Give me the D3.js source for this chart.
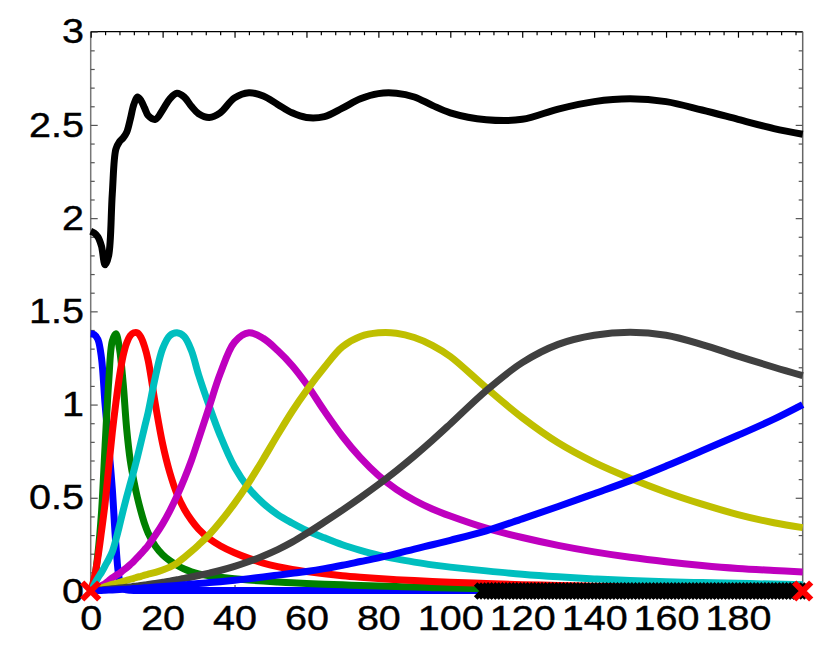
<!DOCTYPE html>
<html>
<head>
<meta charset="utf-8">
<script src="https://cdn.jsdelivr.net/npm/d3@7"></script>
<style>
  html, body { margin: 0; padding: 0; background: #fff; }
  svg text { font-family: "Liberation Sans", Arial, Helvetica, sans-serif; }
</style>
</head>
<body>
<div id="chart"></div>
<script>
// Shared sample positions (x)
const xs = [0, 1, 2, 3, 4, 5, 6, 7, 8, 9, 10, 11, 12, 13, 14, 15, 16, 18, 20, 22,
            24, 26, 28, 30, 33, 36, 40, 44, 48, 52, 56, 60, 65, 70, 75, 80, 85, 90, 95, 100,
            110, 120, 130, 140, 150, 160, 170, 180, 190, 198];

// Series values at xs
const blackLine = [1.93, 1.92, 1.90, 1.85, 1.75, 1.80, 2.13, 2.37, 2.41, 2.43, 2.46, 2.53, 2.61, 2.65, 2.63, 2.59, 2.55, 2.53, 2.58, 2.64,
                   2.67, 2.65, 2.60, 2.56, 2.54, 2.565, 2.645, 2.673, 2.655, 2.61, 2.565, 2.54, 2.545, 2.59, 2.64, 2.668, 2.67, 2.65, 2.605, 2.565,
                   2.528, 2.53, 2.585, 2.625, 2.64, 2.625, 2.58, 2.53, 2.48, 2.45];
const blue1 = [1.38, 1.375, 1.35, 1.25, 1.0, 0.78, 0.55, 0.25, 0.06, 0.015, 0.006, 0.004, 0.003, 0.003, 0.003, 0.003, 0.003, 0.003, 0.003, 0.003,
               0.003, 0.003, 0.003, 0.003, 0.003, 0.003, 0.003, 0.003, 0.003, 0.003, 0.003, 0.003, 0.003, 0.003, 0.003, 0.003, 0.003, 0.003, 0.003, 0.003,
               0.003, 0.003, 0.003, 0.003, 0.003, 0.003, 0.003, 0.003, 0.003, 0.003];
const green = [0, 0.06, 0.2, 0.42, 0.78, 1.12, 1.34, 1.38, 1.3, 1.12, 0.87, 0.7, 0.59, 0.5, 0.425, 0.36, 0.31, 0.24, 0.195, 0.163,
               0.138, 0.118, 0.103, 0.092, 0.081, 0.074, 0.066, 0.059, 0.053, 0.048, 0.044, 0.04, 0.036, 0.033, 0.03, 0.027, 0.024, 0.021, 0.018, 0.016,
               0.012, 0.01, 0.008, 0.007, 0.006, 0.005, 0.005, 0.004, 0.004, 0.004];
const red = [0, 0.07, 0.18, 0.32, 0.47, 0.66, 0.85, 1.01, 1.15, 1.26, 1.33, 1.37, 1.385, 1.385, 1.36, 1.31, 1.235, 1.0, 0.79, 0.635,
             0.52, 0.44, 0.38, 0.332, 0.28, 0.243, 0.205, 0.175, 0.15, 0.131, 0.116, 0.104, 0.092, 0.082, 0.074, 0.067, 0.061, 0.056, 0.051, 0.047,
             0.04, 0.034, 0.03, 0.026, 0.023, 0.021, 0.019, 0.017, 0.016, 0.015];
const cyan = [0, 0.035, 0.07, 0.1, 0.135, 0.17, 0.21, 0.275, 0.35, 0.43, 0.505, 0.575, 0.645, 0.72, 0.8, 0.88, 0.96, 1.15, 1.3, 1.37,
              1.385, 1.365, 1.29, 1.16, 0.99, 0.835, 0.665, 0.55, 0.47, 0.41, 0.365, 0.325, 0.285, 0.248, 0.218, 0.192, 0.172, 0.155, 0.14, 0.128,
              0.108, 0.09, 0.076, 0.065, 0.056, 0.05, 0.045, 0.041, 0.037, 0.034];
const magenta = [0, 0.008, 0.015, 0.028, 0.04, 0.055, 0.07, 0.083, 0.095, 0.11, 0.125, 0.142, 0.16, 0.18, 0.2, 0.222, 0.245, 0.3, 0.36, 0.43,
                 0.51, 0.6, 0.7, 0.815, 0.99, 1.165, 1.335, 1.385, 1.355, 1.29, 1.21, 1.11, 0.965, 0.83, 0.715, 0.62, 0.545, 0.487, 0.44, 0.402,
                 0.337, 0.287, 0.245, 0.21, 0.181, 0.157, 0.137, 0.121, 0.11, 0.102];
const yellow = [0, 0.005, 0.011, 0.017, 0.023, 0.029, 0.035, 0.04, 0.046, 0.052, 0.057, 0.063, 0.068, 0.074, 0.079, 0.085, 0.09, 0.1, 0.113, 0.128,
                0.15, 0.18, 0.212, 0.247, 0.303, 0.37, 0.47, 0.583, 0.708, 0.838, 0.963, 1.075, 1.2, 1.31, 1.365, 1.385, 1.383, 1.36, 1.318, 1.258,
                1.09, 0.93, 0.795, 0.69, 0.605, 0.53, 0.466, 0.41, 0.366, 0.34];
const gray = [0, 0.002, 0.004, 0.006, 0.008, 0.01, 0.012, 0.014, 0.016, 0.018, 0.02, 0.022, 0.025, 0.027, 0.03, 0.032, 0.035, 0.041, 0.047, 0.053,
              0.06, 0.067, 0.075, 0.083, 0.096, 0.11, 0.132, 0.158, 0.188, 0.222, 0.262, 0.308, 0.37, 0.434, 0.501, 0.571, 0.645, 0.724, 0.808, 0.896,
              1.075, 1.225, 1.323, 1.372, 1.388, 1.372, 1.322, 1.26, 1.2, 1.155];
const blue2 = [0, 0.001, 0.002, 0.003, 0.004, 0.005, 0.006, 0.007, 0.008, 0.009, 0.01, 0.011, 0.013, 0.014, 0.015, 0.017, 0.018, 0.021, 0.024, 0.027,
               0.03, 0.033, 0.037, 0.04, 0.045, 0.05, 0.058, 0.066, 0.075, 0.085, 0.095, 0.105, 0.12, 0.138, 0.158, 0.178, 0.2, 0.225, 0.248, 0.272,
               0.323, 0.387, 0.453, 0.522, 0.592, 0.67, 0.752, 0.835, 0.922, 1.0];

// Markers along y = 0
const blackMarkX = [109, 110, 111, 112, 113, 114, 115, 116, 117, 118, 119, 120, 121, 122, 123, 124, 125, 126, 127, 128,
                    129, 130, 131, 132, 133, 134, 135, 136, 137, 138, 139, 140, 141, 142, 143, 144, 145, 146, 147, 148,
                    149, 150, 151, 152, 153, 154, 155, 156, 157, 158, 159, 160, 161, 162, 163, 164, 165, 166, 167, 168,
                    169, 170, 171, 172, 173, 174, 175, 176, 177, 178, 179, 180, 181, 182, 183, 184, 185, 186, 187, 188,
                    189, 190, 191, 192, 193, 194, 195, 196, 197];
const redMarkX = [0, 198];

// Axis ticks
const xTicks = [0, 20, 40, 60, 80, 100, 120, 140, 160, 180];
const xMinor = [4, 8, 12, 16, 24, 28, 32, 36, 44, 48, 52, 56, 64, 68, 72, 76, 84, 88, 92, 96,
                104, 108, 112, 116, 124, 128, 132, 136, 144, 148, 152, 156, 164, 168, 172, 176, 184, 188, 192, 196];
const yTicks = [0, 0.5, 1, 1.5, 2, 2.5, 3];
const yMinor = [0.1, 0.2, 0.3, 0.4, 0.6, 0.7, 0.8, 0.9, 1.1, 1.2, 1.3, 1.4, 1.6, 1.7, 1.8, 1.9,
                2.1, 2.2, 2.3, 2.4, 2.6, 2.7, 2.8, 2.9];

const series = [
    { values: blue1, color: "#0000ff" },
    { values: green, color: "#008000" },
    { values: red, color: "#ff0000" },
    { values: cyan, color: "#00bfbf" },
    { values: magenta, color: "#bf00bf" },
    { values: yellow, color: "#bfbf00" },
    { values: gray, color: "#404040" },
    { values: blue2, color: "#0000ff" },
    { values: blackLine, color: "#000000" }
];

const width = 831, height = 651;
const plotLeft = 90.7, plotRight = 802.7, plotTop = 31.7, plotBottom = 591;

const svg = d3.select("#chart").append("svg")
    .attr("width", width)
    .attr("height", height);

svg.append("rect").attr("width", width).attr("height", height).attr("fill", "#fff");

const x = d3.scaleLinear().domain([0, 198]).range([plotLeft, plotRight]);
const y = d3.scaleLinear().domain([0, 3]).range([plotBottom, plotTop]);

// Frame
svg.append("line").attr("x1", plotLeft).attr("x2", plotRight).attr("y1", plotTop).attr("y2", plotTop)
    .attr("stroke", "#000").attr("stroke-width", 1.2);
svg.append("line").attr("x1", plotLeft).attr("x2", plotLeft).attr("y1", plotTop).attr("y2", plotBottom)
    .attr("stroke", "#777").attr("stroke-width", 1.5);
svg.append("line").attr("x1", plotRight).attr("x2", plotRight).attr("y1", plotTop).attr("y2", plotBottom)
    .attr("stroke", "#666").attr("stroke-width", 1.5);
svg.append("line").attr("x1", plotLeft).attr("x2", plotRight).attr("y1", plotBottom).attr("y2", plotBottom)
    .attr("stroke", "#777").attr("stroke-width", 1.2);

// Axes with inward ticks; labels are slightly widened like the original font
function styleAxis(sel, color) {
    sel.select(".domain").remove();
    sel.selectAll(".tick line").attr("stroke", color).attr("stroke-width", 1.2);
    sel.selectAll("text")
        .attr("font-size", "35px")
        .attr("fill", "#000")
        .attr("stroke", "#000")
        .attr("stroke-width", 0.4)
        .attr("transform", "scale(1.13,1)");
}

svg.append("g").attr("transform", `translate(${plotLeft},0)`)
    .call(d3.axisLeft(y).tickValues(yTicks).tickSize(-7).tickSizeOuter(0).tickPadding(6)
        .tickFormat(d3.format("")))
    .call(g => styleAxis(g, "#555"));
svg.append("g").attr("transform", `translate(${plotLeft},0)`)
    .call(d3.axisLeft(y).tickValues(yMinor).tickSize(-4).tickSizeOuter(0).tickFormat(""))
    .call(g => styleAxis(g, "#555"));
svg.append("g").attr("transform", `translate(${plotRight},0)`)
    .call(d3.axisRight(y).tickValues(yTicks).tickSize(-7).tickSizeOuter(0).tickFormat(""))
    .call(g => styleAxis(g, "#555"));
svg.append("g").attr("transform", `translate(${plotRight},0)`)
    .call(d3.axisRight(y).tickValues(yMinor).tickSize(-4).tickSizeOuter(0).tickFormat(""))
    .call(g => styleAxis(g, "#555"));

svg.append("g").attr("transform", `translate(0,${plotTop})`)
    .call(d3.axisTop(x).tickValues(xTicks).tickSize(-6).tickSizeOuter(0).tickFormat(""))
    .call(g => styleAxis(g, "#000"));
svg.append("g").attr("transform", `translate(0,${plotTop})`)
    .call(d3.axisTop(x).tickValues(xMinor).tickSize(-3.5).tickSizeOuter(0).tickFormat(""))
    .call(g => styleAxis(g, "#000"));
svg.append("g").attr("transform", `translate(0,${plotBottom})`)
    .call(d3.axisBottom(x).tickValues(xTicks).tickSize(-6).tickSizeOuter(0).tickPadding(14)
        .tickFormat(d3.format("")))
    .call(g => styleAxis(g, "#555"));

// Curves
const line = d3.line()
    .x((d, i) => x(xs[i]))
    .y(d => y(d))
    .curve(d3.curveCatmullRom.alpha(0.5));

svg.append("g").selectAll("path")
    .data(series)
    .join("path")
    .attr("d", d => line(d.values))
    .attr("fill", "none")
    .attr("stroke", d => d.color)
    .attr("stroke-width", 7)
    .attr("stroke-linejoin", "round");

// X markers
const cross = s => `M${-s},${-s}L${s},${s}M${-s},${s}L${s},${-s}`;

svg.append("g").selectAll("path")
    .data(blackMarkX)
    .join("path")
    .attr("transform", d => `translate(${x(d)},${y(0)})`)
    .attr("d", cross(7))
    .attr("stroke", "#000")
    .attr("stroke-width", 5);

svg.append("g").selectAll("path")
    .data(redMarkX)
    .join("path")
    .attr("transform", d => `translate(${x(d)},${y(0)})`)
    .attr("d", cross(8.5))
    .attr("stroke", "#ff0000")
    .attr("stroke-width", 6);
</script>
</body>
</html>
